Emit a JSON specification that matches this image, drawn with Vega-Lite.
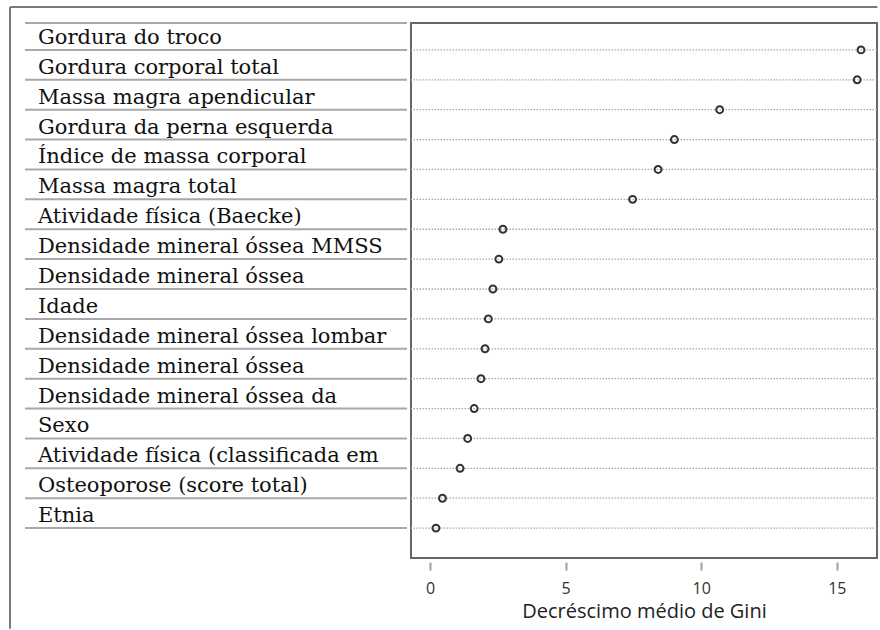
{
  "$schema": "https://vega.github.io/schema/vega-lite/v6.json",
  "padding": {"left": 9, "top": 6, "right": 0, "bottom": 0},
  "background": "white",
  "spacing": 4,
  "bounds": "flush",
  "datasets": {
    "imp": [
      {"rank": 1, "variavel": "Gordura do troco", "gini": 15.89},
      {"rank": 2, "variavel": "Gordura corporal total", "gini": 15.75},
      {"rank": 3, "variavel": "Massa magra apendicular", "gini": 10.68},
      {"rank": 4, "variavel": "Gordura da perna esquerda", "gini": 9.01},
      {"rank": 5, "variavel": "Índice de massa corporal", "gini": 8.41},
      {"rank": 6, "variavel": "Massa magra total", "gini": 7.47},
      {"rank": 7, "variavel": "Atividade física (Baecke)", "gini": 2.69},
      {"rank": 8, "variavel": "Densidade mineral óssea MMSS", "gini": 2.54},
      {"rank": 9, "variavel": "Densidade mineral óssea", "gini": 2.32},
      {"rank": 10, "variavel": "Idade", "gini": 2.15},
      {"rank": 11, "variavel": "Densidade mineral óssea lombar", "gini": 2.03},
      {"rank": 12, "variavel": "Densidade mineral óssea", "gini": 1.88},
      {"rank": 13, "variavel": "Densidade mineral óssea da", "gini": 1.63},
      {"rank": 14, "variavel": "Sexo", "gini": 1.39},
      {"rank": 15, "variavel": "Atividade física (classificada em", "gini": 1.11},
      {"rank": 16, "variavel": "Osteoporose (score total)", "gini": 0.46},
      {"rank": 17, "variavel": "Etnia", "gini": 0.22}
    ]
  },
  "hconcat": [
    {
      "width": 397,
      "height": 535,
      "view": {"stroke": null},
      "layer": [
        {
          "data": {"name": "imp"},
          "mark": {"type": "rule", "stroke": "#a8a8a8", "strokeWidth": 2},
          "encoding": {
            "y": {"field": "rank", "type": "quantitative", "scale": {"domain": [0.1, 18], "reverse": true, "nice": false, "zero": false}, "axis": null},
            "x": {"datum": 0.0378, "type": "quantitative", "scale": {"domain": [0, 1], "nice": false, "zero": false}, "axis": null},
            "x2": {"datum": 1}
          }
        },
        {
          "data": {"values": [{}]},
          "mark": {"type": "rule", "stroke": "#a8a8a8", "strokeWidth": 2},
          "encoding": {
            "y": {"datum": 0.1, "type": "quantitative"},
            "x": {"datum": 0.0378, "type": "quantitative"},
            "x2": {"datum": 1}
          }
        },
        {
          "data": {"name": "imp"},
          "mark": {"type": "text", "align": "left", "baseline": "alphabetic", "dy": -6, "font": "DejaVu Serif", "fontSize": 21, "color": "#111111"},
          "encoding": {
            "y": {"field": "rank", "type": "quantitative"},
            "x": {"datum": 0.0705, "type": "quantitative"},
            "text": {"field": "variavel"}
          }
        },
        {
          "data": {"values": [{}]},
          "mark": {"type": "rule", "stroke": "#7a7a7a", "strokeWidth": 2},
          "encoding": {
            "x": {"datum": 0, "type": "quantitative"},
            "y": {"datum": -0.435, "type": "quantitative"},
            "y2": {"datum": 20.37}
          }
        },
        {
          "data": {"values": [{}]},
          "mark": {"type": "rule", "stroke": "#7a7a7a", "strokeWidth": 2},
          "encoding": {
            "x": {"datum": 0, "type": "quantitative"},
            "x2": {"datum": 2.185},
            "y": {"datum": -0.435, "type": "quantitative"}
          }
        }
      ]
    },
    {
      "width": 466,
      "height": 535,
      "view": {"stroke": "#666666", "strokeWidth": 2},
      "data": {"name": "imp"},
      "layer": [
        {
          "mark": {"type": "rule", "stroke": "#a8a8a8", "strokeWidth": 1.3, "strokeDash": [1.5, 1.5]},
          "encoding": {
            "y": {"field": "rank", "type": "quantitative", "scale": {"domain": [0.1, 18], "reverse": true, "nice": false, "zero": false}, "axis": null}
          }
        },
        {
          "mark": {"type": "point", "shape": "circle", "filled": false, "stroke": "#333333", "strokeWidth": 2, "size": 48, "opacity": 1},
          "encoding": {
            "x": {
              "field": "gini", "type": "quantitative",
              "scale": {"domain": [-0.7, 16.48], "nice": false, "zero": false},
              "title": "Decréscimo médio de Gini",
              "axis": {"values": [0, 5, 10, 15], "domain": false, "grid": false, "offset": 4, "tickSize": 8, "tickWidth": 2, "tickColor": "#a0a0a0", "labelFont": "Open Sans", "labelFontSize": 16, "labelColor": "#333333", "labelPadding": 10, "titleFont": "Open Sans", "titleFontSize": 20, "titleFontWeight": "normal", "titleColor": "#222222", "titlePadding": 5}
            },
            "y": {"field": "rank", "type": "quantitative"}
          }
        }
      ]
    }
  ]
}
